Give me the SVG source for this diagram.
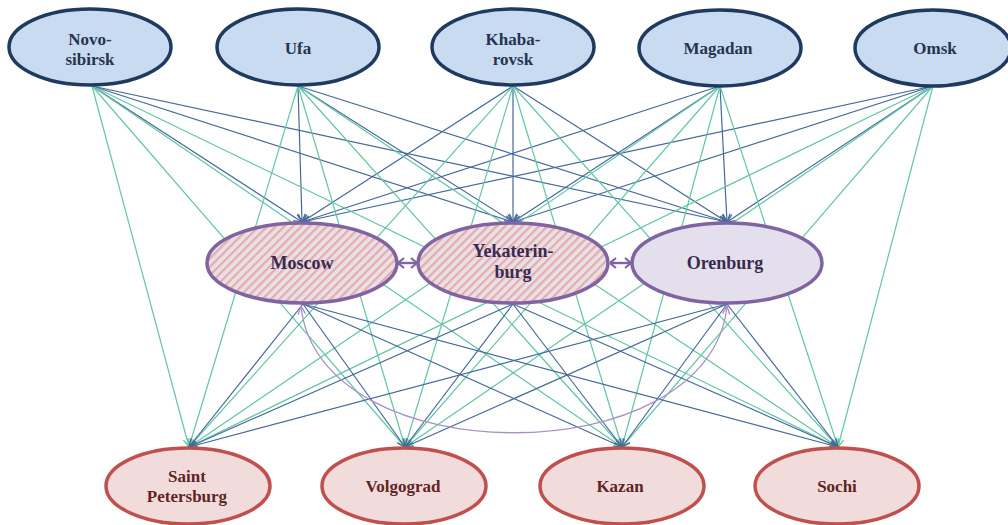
<svg xmlns="http://www.w3.org/2000/svg" width="1008" height="525" viewBox="0 0 1008 525">
<defs>
<style>
.top{fill:#c9dbf0;stroke:#1f3a60;stroke-width:3.5}
.mid{stroke:#8064a2;stroke-width:3.5}
.bot{fill:#f2dcdb;stroke:#c0504d;stroke-width:3.5}
.b{stroke:#45699a;stroke-width:1.2;fill:none;marker-end:url(#ab)}
.t{stroke:#62c6a6;stroke-width:1.2;fill:none;marker-end:url(#at)}
.p{stroke:#8064a2;stroke-width:2.4;fill:none;marker-start:url(#ap);marker-end:url(#ap)}
.arc{stroke:#a990c8;stroke-width:1.3;fill:none;marker-start:url(#aa);marker-end:url(#aa)}
text{font-family:"Liberation Serif","Times New Roman",serif;font-weight:bold;font-size:17px;text-anchor:middle}
.tt{fill:#26344f}
.mt{fill:#3b2a50;font-size:18px}
.bt{fill:#5e2525}
</style>
<pattern id="hatch" patternUnits="userSpaceOnUse" width="6" height="6" patternTransform="rotate(45)">
<rect width="6" height="6" fill="#e6e0ec"/>
<rect width="2.2" height="6" fill="#eaaba1"/>
</pattern>
<marker id="ab" viewBox="0 0 10 10" refX="10" refY="5" markerWidth="9" markerHeight="9" markerUnits="userSpaceOnUse" orient="auto"><path d="M1,1 L10,5 L1,9" fill="none" stroke="#45699a" stroke-width="1.5"/></marker>
<marker id="at" viewBox="0 0 10 10" refX="10" refY="5" markerWidth="9" markerHeight="9" markerUnits="userSpaceOnUse" orient="auto"><path d="M1,1 L10,5 L1,9" fill="none" stroke="#62c6a6" stroke-width="1.5"/></marker>
<marker id="ap" viewBox="0 0 10 12" refX="9.5" refY="6" markerWidth="10" markerHeight="12" markerUnits="userSpaceOnUse" orient="auto-start-reverse"><path d="M3.5,1 L9.5,6 L3.5,11" fill="none" stroke="#8064a2" stroke-width="2.2"/></marker>
<marker id="aa" viewBox="0 0 10 10" refX="10" refY="5" markerWidth="9" markerHeight="9" markerUnits="userSpaceOnUse" orient="auto-start-reverse"><path d="M1,1 L10,5 L1,9" fill="none" stroke="#a990c8" stroke-width="1.5"/></marker>
</defs>
<rect width="1008" height="525" fill="#ffffff"/>
<g id="connectors">
<path class="b" d="M92,86 L302,222"/><path class="b" d="M92,86 L513,222"/><path class="b" d="M92,86 L727,222"/>
<path class="b" d="M298,86 L302,222"/><path class="b" d="M298,86 L513,222"/><path class="b" d="M298,86 L727,222"/>
<path class="b" d="M513,86 L302,222"/><path class="b" d="M513,86 L513,222"/><path class="b" d="M513,86 L727,222"/>
<path class="b" d="M720,86 L302,222"/><path class="b" d="M720,86 L513,222"/><path class="b" d="M720,86 L727,222"/>
<path class="b" d="M933,86 L302,222"/><path class="b" d="M933,86 L513,222"/><path class="b" d="M933,86 L727,222"/>
<path class="t" d="M92,86 L189,447"/><path class="t" d="M92,86 L405,447"/><path class="t" d="M92,86 L622,447"/><path class="t" d="M92,86 L838,447"/>
<path class="t" d="M298,86 L189,447"/><path class="t" d="M298,86 L405,447"/><path class="t" d="M298,86 L622,447"/><path class="t" d="M298,86 L838,447"/>
<path class="t" d="M513,86 L189,447"/><path class="t" d="M513,86 L405,447"/><path class="t" d="M513,86 L622,447"/><path class="t" d="M513,86 L838,447"/>
<path class="t" d="M720,86 L189,447"/><path class="t" d="M720,86 L405,447"/><path class="t" d="M720,86 L622,447"/><path class="t" d="M720,86 L838,447"/>
<path class="t" d="M933,86 L189,447"/><path class="t" d="M933,86 L405,447"/><path class="t" d="M933,86 L622,447"/><path class="t" d="M933,86 L838,447"/>
<path class="b" d="M303,304 L189,447"/><path class="b" d="M303,304 L405,447"/><path class="b" d="M303,304 L622,447"/><path class="b" d="M303,304 L838,447"/>
<path class="b" d="M513,304 L189,447"/><path class="b" d="M513,304 L405,447"/><path class="b" d="M513,304 L622,447"/><path class="b" d="M513,304 L838,447"/>
<path class="b" d="M727,304 L189,447"/><path class="b" d="M727,304 L405,447"/><path class="b" d="M727,304 L622,447"/><path class="b" d="M727,304 L838,447"/>
<path class="arc" d="M301,306 C318,475 710,475 727,306"/>
<path class="p" d="M398,263 L417,263"/>
<path class="p" d="M610,263 L631,263"/>
</g>
<g id="node-novosibirsk"><ellipse class="top" cx="90" cy="47" rx="81" ry="38"/><text class="tt" x="90" y="45">Novo-</text><text class="tt" x="90" y="65">sibirsk</text></g>
<g id="node-ufa"><ellipse class="top" cx="298" cy="47" rx="81" ry="38"/><text class="tt" x="298" y="54">Ufa</text></g>
<g id="node-khabarovsk"><ellipse class="top" cx="513" cy="47" rx="81" ry="38"/><text class="tt" x="513" y="45">Khaba-</text><text class="tt" x="513" y="65">rovsk</text></g>
<g id="node-magadan"><ellipse class="top" cx="720" cy="48" rx="81" ry="38"/><text class="tt" x="718" y="54">Magadan</text></g>
<g id="node-omsk"><ellipse class="top" cx="933" cy="48" rx="78" ry="38"/><text class="tt" x="935" y="54">Omsk</text></g>
<g id="node-moscow"><ellipse class="mid" fill="url(#hatch)" cx="302" cy="263" rx="95" ry="40"/><text class="mt" x="302" y="269">Moscow</text></g>
<g id="node-yekaterinburg"><ellipse class="mid" fill="url(#hatch)" cx="513" cy="263" rx="95" ry="40"/><text class="mt" x="513" y="257">Yekaterin-</text><text class="mt" x="513" y="278">burg</text></g>
<g id="node-orenburg"><ellipse class="mid" fill="#e4dfec" cx="727" cy="263" rx="95" ry="40"/><text class="mt" x="725" y="269">Orenburg</text></g>
<g id="node-saint-petersburg"><ellipse class="bot" cx="188" cy="486" rx="82" ry="38"/><text class="bt" x="187" y="482">Saint</text><text class="bt" x="187" y="502">Petersburg</text></g>
<g id="node-volgograd"><ellipse class="bot" cx="404" cy="486" rx="82" ry="38"/><text class="bt" x="403" y="492">Volgograd</text></g>
<g id="node-kazan"><ellipse class="bot" cx="622" cy="486" rx="82" ry="38"/><text class="bt" x="620" y="492">Kazan</text></g>
<g id="node-sochi"><ellipse class="bot" cx="837" cy="486" rx="82" ry="38"/><text class="bt" x="837" y="492">Sochi</text></g>
</svg>
